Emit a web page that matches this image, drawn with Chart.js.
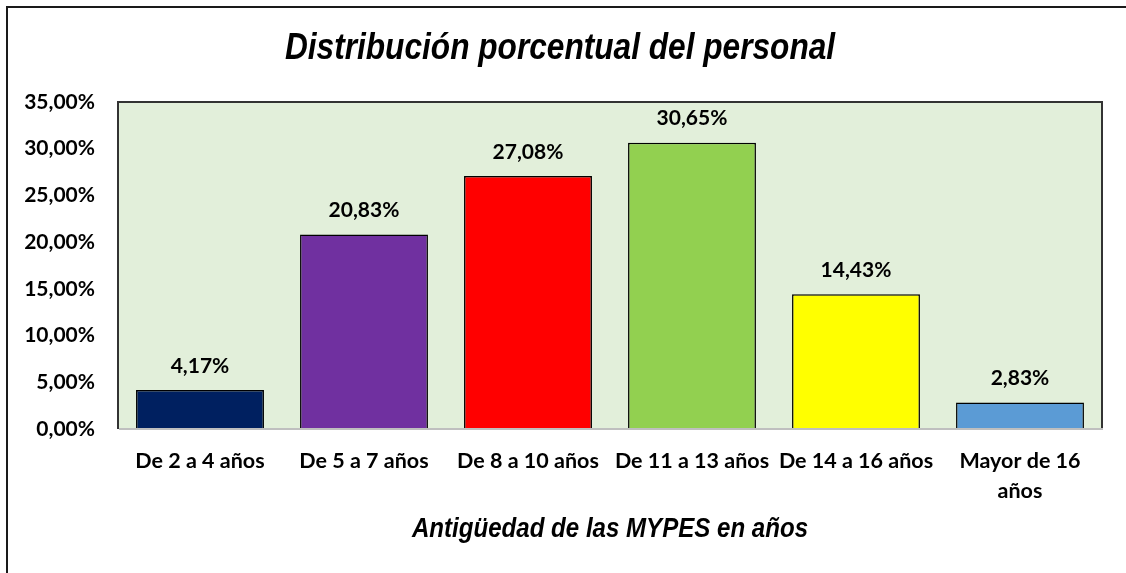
<!DOCTYPE html>
<html>
<head>
<meta charset="utf-8">
<script src="https://cdn.jsdelivr.net/npm/chart.js@4.4.1/dist/chart.umd.min.js"></script>
<style>
  html, body { margin: 0; padding: 0; background: #ffffff; overflow: hidden; }
  #wrap { position: relative; width: 1126px; height: 573px; }
</style>
</head>
<body>
<div id="wrap"><canvas id="personalChart" width="1126" height="573"></canvas></div>
<script>
// datos
const categorias = ["De 2 a 4 años", "De 5 a 7 años", "De 8 a 10 años", "De 11 a 13 años", "De 14 a 16 años", ["Mayor de 16", "años"]];
const porcentajes = [4.17, 20.83, 27.08, 30.65, 14.43, 2.83];
const coloresBarras = ["#002060", "#7030A0", "#FF0000", "#92D050", "#FFFF00", "#5B9BD5"];
const ejeY = { min: 0, max: 35, paso: 5 };
const tituloGrafico = "Distribución porcentual del personal";
const tituloEjeX = "Antigüedad de las MYPES en años";

const fuenteEtiquetas = "Lato";

function formatoPct(v) {
  return v.toFixed(2).replace(".", ",") + "%";
}

// fondo verde del area de trazado + marco
const fondoPlot = {
  id: "fondoPlot",
  beforeDraw(chart) {
    const ctx = chart.ctx;
    const a = chart.chartArea;
    ctx.save();
    // marco exterior del grafico (recortado a la derecha y abajo)
    ctx.strokeStyle = "#1a1a1a";
    ctx.lineWidth = 2;
    ctx.strokeRect(7, 7, 1400, 1000);
    ctx.fillStyle = "#E2EFDA";
    ctx.fillRect(a.left, a.top, a.right - a.left, a.bottom - a.top);
    ctx.restore();
  },
  afterDatasetsDraw(chart) {
    const ctx = chart.ctx;
    const a = chart.chartArea;
    ctx.save();
    ctx.strokeStyle = "#333333";
    ctx.lineWidth = 2;
    ctx.beginPath();
    ctx.moveTo(a.left, a.bottom);
    ctx.lineTo(a.left, a.top);
    ctx.lineTo(a.right, a.top);
    ctx.lineTo(a.right, a.bottom);
    ctx.stroke();
    ctx.strokeStyle = "#BFBFBF";
    ctx.beginPath();
    ctx.moveTo(a.left + 1, a.bottom);
    ctx.lineTo(a.right + 1, a.bottom);
    ctx.stroke();
    ctx.restore();
  }
};

// etiquetas de valor encima de cada barra
const etiquetasValor = {
  id: "etiquetasValor",
  afterDatasetsDraw(chart) {
    const ctx = chart.ctx;
    const meta = chart.getDatasetMeta(0);
    ctx.save();
    ctx.font = "bold 21px " + fuenteEtiquetas;
    ctx.fillStyle = "#000000";
    ctx.textAlign = "center";
    ctx.textBaseline = "middle";
    meta.data.forEach(function(bar, i) {
      ctx.fillText(formatoPct(porcentajes[i]), bar.x, bar.y - 24);
    });
    ctx.restore();
  }
};

// texto en cursiva algo estrecho, como en el original
function textoEstrecho(ctx, txt, x, y, fuente, escala) {
  ctx.save();
  ctx.font = fuente;
  ctx.textAlign = "center";
  ctx.textBaseline = "alphabetic";
  ctx.translate(x, y);
  ctx.scale(escala, 1);
  ctx.fillText(txt, 0, 0);
  ctx.restore();
}

// titulo principal y titulo del eje X
const titulos = {
  id: "titulos",
  afterDraw(chart) {
    const ctx = chart.ctx;
    ctx.save();
    ctx.fillStyle = "#000000";
    textoEstrecho(ctx, tituloGrafico, 560, 59, "italic bold 37px 'Liberation Sans'", 0.855);
    textoEstrecho(ctx, tituloEjeX, 610, 537, "italic bold 28px 'Liberation Sans'", 0.86);
    ctx.restore();
  }
};

const ctx = document.getElementById("personalChart").getContext("2d");
new Chart(ctx, {
  type: "bar",
  data: {
    labels: categorias,
    datasets: [{
      data: porcentajes,
      backgroundColor: coloresBarras,
      borderColor: "#000000",
      borderWidth: 1.5,
      barPercentage: 0.78,
      categoryPercentage: 1.0
    }]
  },
  options: {
    responsive: false,
    animation: false,
    layout: { padding: { left: 8, right: 24, top: 102, bottom: 0 } },
    plugins: {
      legend: { display: false },
      tooltip: { enabled: false },
      title: { display: false }
    },
    scales: {
      x: {
        grid: { display: false, drawTicks: false },
        border: { display: false },
        ticks: {
          color: "#000000",
          padding: 17,
          maxRotation: 0,
          autoSkip: false,
          font: { family: fuenteEtiquetas, size: 21.5, weight: "bold", lineHeight: 1.4 }
        },
        afterFit: function(scale) { scale.height = 144; }
      },
      y: {
        min: ejeY.min,
        max: ejeY.max,
        grid: { display: false, drawTicks: false },
        border: { display: false },
        ticks: {
          stepSize: ejeY.paso,
          color: "#000000",
          padding: 23,
          font: { family: fuenteEtiquetas, size: 21, weight: "bold" },
          callback: function(v) { return formatoPct(v); }
        },
        afterFit: function(scale) { scale.width = 110; }
      }
    }
  },
  plugins: [fondoPlot, etiquetasValor, titulos]
});
</script>
</body>
</html>
